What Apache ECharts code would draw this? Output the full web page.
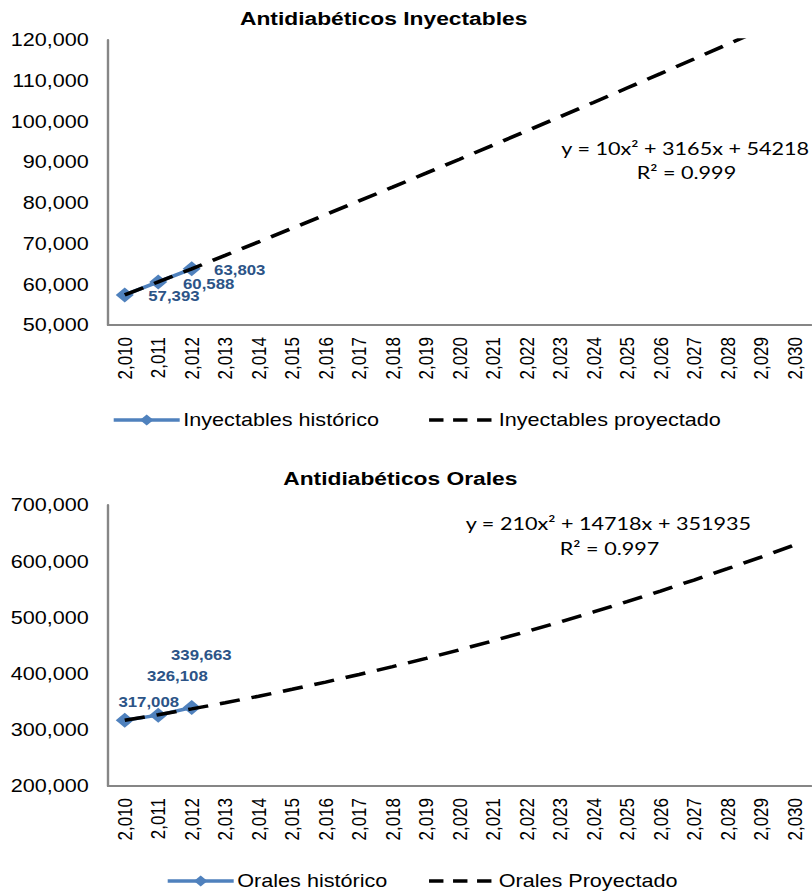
<!DOCTYPE html>
<html><head><meta charset="utf-8">
<script src="https://cdn.jsdelivr.net/npm/echarts@6/dist/echarts.min.js"></script>
<style>
html,body{margin:0;padding:0;background:#fff;overflow:hidden}
#wrap{width:812px;height:892px;overflow:hidden;position:relative}
#c{width:677px;height:892px;transform:scaleX(1.2);transform-origin:0 0}
</style>
</head><body><div id="wrap"><div id="c"></div></div>
<script>
// ---- data ----
const years = ['2,010','2,011','2,012','2,013','2,014','2,015','2,016','2,017','2,018','2,019','2,020',
               '2,021','2,022','2,023','2,024','2,025','2,026','2,027','2,028','2,029','2,030'];
const inyHistorico = [57393, 60588, 63803];
const inyProyectado = [57393, 60588, 63803, 67100, 70410, 73750, 77100, 80480, 83870, 87290, 90720,
                       94180, 97650, 101150, 104660, 108200, 111750, 115330, 118920, 122540, 126170];
const oralHistorico = [317008, 326108, 339663];
const oralProyectado = [317000, 326800, 337200, 348200, 359800, 372100, 384900, 398400, 412400, 427100, 442400,
                        458300, 474800, 491900, 509700, 528000, 546900, 566500, 586600, 607400, 628800];
const inyTicks = {min: 50000, max: 120000, interval: 10000};
const oralTicks = {min: 200000, max: 700000, interval: 100000};
const inyEquation = ['y = 10x² + 3165x + 54218', 'R² = 0.999'];
const oralEquation = ['y = 210x² + 14718x + 351935', 'R² = 0.997'];

// ---- label placement (style only) ----
const inyLabelOffsets = [[41, 1], [42, 2], [40, 1]];
const oralLabelOffsets = [[20, -18], [16, -39], [8, -52]];

const FONT = '"Liberation Sans", Arial, sans-serif';
const axisGray = '#868686';
const histColor = '#4F81BD';
const labelColor = '#2C5487';
const dash = [17, 10];

function withLabels(values, offsets) {
  return values.map((v, i) => ({
    value: v,
    label: {offset: offsets[i]}
  }));
}
const fmt = v => v.toLocaleString('en-US');

function xAxisCfg(idx) {
  return {
    type: 'category', gridIndex: idx, data: years, boundaryGap: true,
    axisLine: {show: true, lineStyle: {color: axisGray, width: 2}},
    axisTick: {show: false},
    splitLine: {show: false},
    axisLabel: {rotate: 90, fontSize: 17, color: '#000', margin: 12, interval: 0, fontFamily: FONT}
  };
}
function yAxisCfg(idx, t) {
  return {
    type: 'value', gridIndex: idx, min: t.min, max: t.max, interval: t.interval,
    axisLine: {show: true, lineStyle: {color: axisGray, width: 2}},
    axisTick: {show: false},
    splitLine: {show: false},
    axisLabel: {fontSize: 18, color: '#000', margin: 16, fontFamily: FONT, formatter: fmt}
  };
}
function histSeries(name, idx, values, offsets) {
  return {
    name, type: 'line', xAxisIndex: idx, yAxisIndex: idx,
    data: withLabels(values, offsets),
    symbol: 'diamond', symbolSize: 15, z: 2,
    itemStyle: {color: histColor},
    lineStyle: {color: histColor, width: 3.5},
    label: {show: true, position: 'inside', fontSize: 14, fontWeight: 'bold', color: labelColor,
            fontFamily: FONT, lineHeight: 14, formatter: p => fmt(p.value)},
    emphasis: {disabled: true}, animation: false
  };
}
function projSeries(name, idx, values) {
  return {
    name, type: 'line', xAxisIndex: idx, yAxisIndex: idx, data: values,
    symbol: 'none', z: 3, clip: true,
    itemStyle: {color: '#000'},
    lineStyle: {color: '#000', width: 3.5, type: dash},
    emphasis: {disabled: true}, animation: false
  };
}
function legendCfg(names, left, top, gap) {
  return {
    data: [
      {name: names[0], lineStyle: {width: 3.5, color: histColor}},
      {name: names[1], itemStyle: {opacity: 0}, lineStyle: {width: 3.5, color: '#000', type: [12, 8]}}
    ],
    left, top, itemWidth: 55, itemHeight: 14, itemGap: gap, selectedMode: false,
    textStyle: {fontSize: 18, color: '#000', fontFamily: FONT, padding: [0, 0, 0, -2]}
  };
}
function txt(x, y, text, font, align) {
  return {type: 'text', x, y, silent: true,
    style: {text, font, fill: '#000', textAlign: align || 'center', textVerticalAlign: 'middle'}};
}

const chart = echarts.init(document.getElementById('c'), null, {renderer: 'svg', width: 677, height: 892});
chart.setOption({
  animation: false,
  backgroundColor: '#fff',
  grid: [
    {left: 90, right: 1, top: 40, height: 285},
    {left: 90, right: 1, top: 505, height: 281}
  ],
  xAxis: [xAxisCfg(0), xAxisCfg(1)],
  yAxis: [yAxisCfg(0, inyTicks), yAxisCfg(1, oralTicks)],
  legend: [
    legendCfg(['Inyectables histórico', 'Inyectables proyectado'], 88, 406, 40),
    legendCfg(['Orales histórico', 'Orales Proyectado'], 133, 867, 33)
  ],
  series: [
    histSeries('Inyectables histórico', 0, inyHistorico, inyLabelOffsets),
    projSeries('Inyectables proyectado', 0, inyProyectado),
    histSeries('Orales histórico', 1, oralHistorico, oralLabelOffsets),
    projSeries('Orales Proyectado', 1, oralProyectado)
  ],
  graphic: [
    txt(200, 18, 'Antidiabéticos Inyectables', 'bold 19px ' + FONT, 'left'),
    txt(236, 478, 'Antidiabéticos Orales', 'bold 19px ' + FONT, 'left'),
    txt(571, 148, inyEquation[0], '18px Lato'),
    txt(572, 172, inyEquation[1], '18px Lato'),
    txt(507, 523, oralEquation[0], '18px Lato'),
    txt(508, 548, oralEquation[1], '18px Lato')
  ]
});
</script>
</body></html>
